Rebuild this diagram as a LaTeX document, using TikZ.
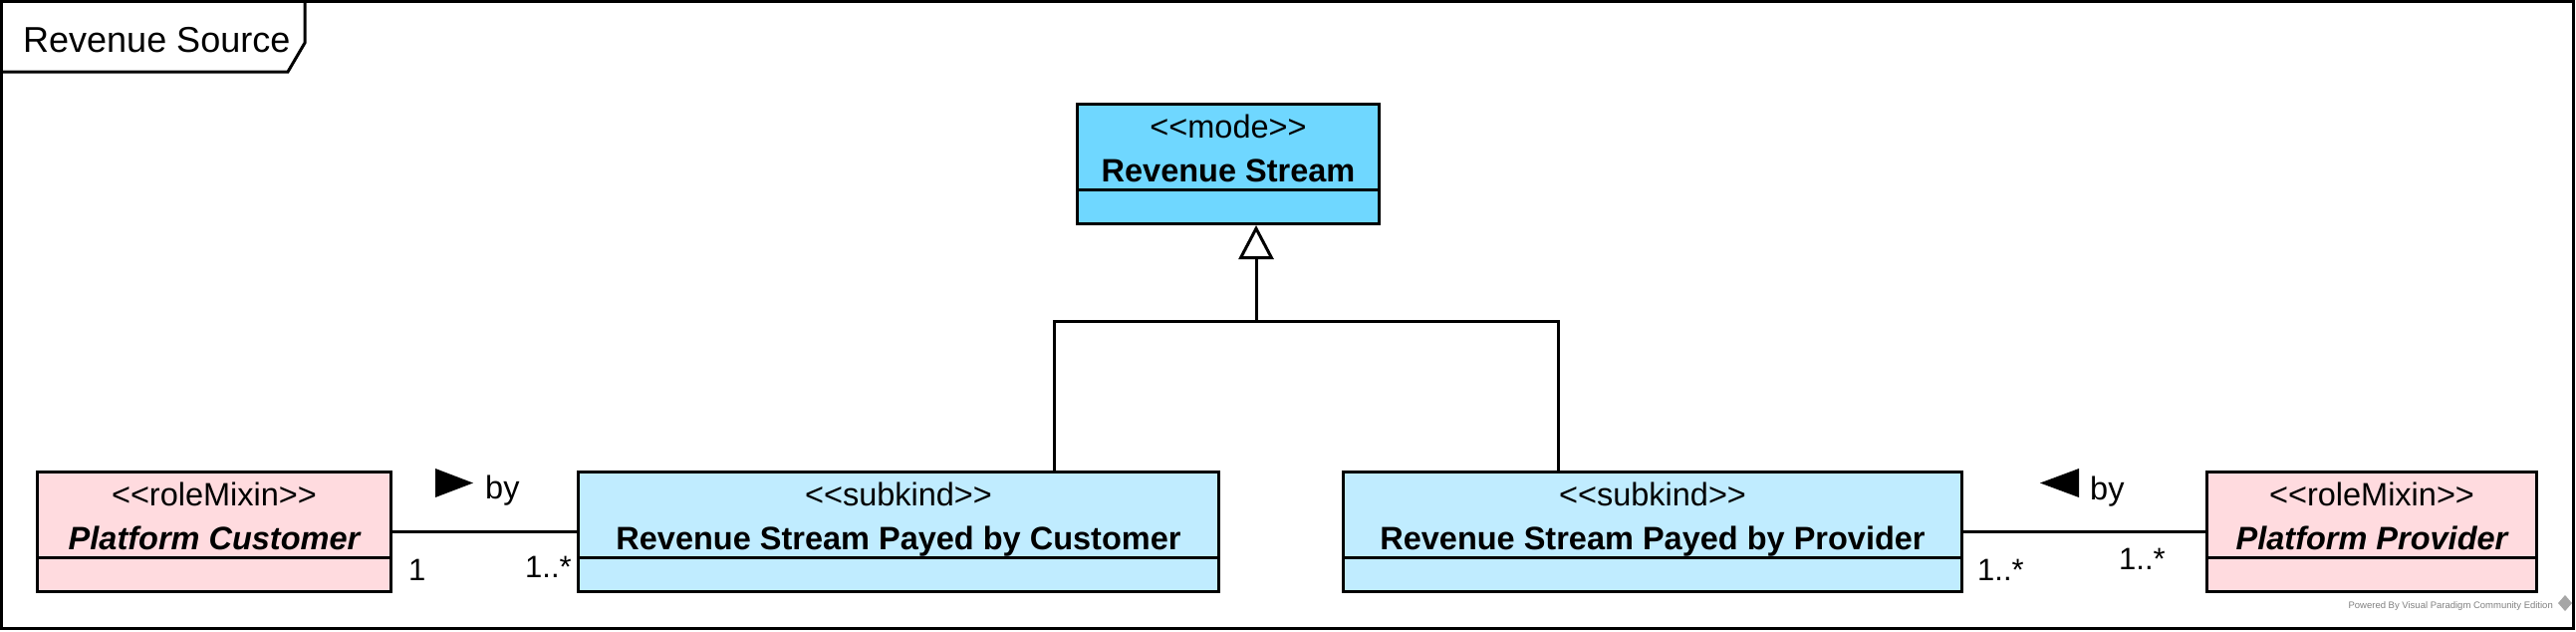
\documentclass[tikz,border=0pt]{standalone}
\usepackage{fontspec}
\setmainfont{Liberation Sans}
\usetikzlibrary{arrows.meta}
\definecolor{modeblue}{RGB}{111,215,255}
\definecolor{subkindblue}{RGB}{192,236,255}
\definecolor{rolepink}{RGB}{255,219,223}
\newcommand{\stereo}[1]{<{}<#1>{}>}
\tikzstyle{diagram frame}=[draw, line width=3pt, anchor=north west, inner sep=0pt, outer sep=0pt]
\tikzstyle{frame title}=[anchor=base west, inner sep=0pt, font=\fontsize{36pt}{43pt}\selectfont]
\tikzstyle{class box}=[draw, line width=3pt, anchor=north west, minimum height=120pt, inner sep=0pt]
\tikzstyle{mode class}=[class box, fill=modeblue]
\tikzstyle{subkind class}=[class box, fill=subkindblue]
\tikzstyle{role class}=[class box, fill=rolepink]
\tikzstyle{stereotype}=[anchor=base, inner sep=0pt, font=\fontsize{32.5pt}{39pt}\selectfont]
\tikzstyle{class name}=[stereotype, font=\fontsize{32.5pt}{39pt}\selectfont\bfseries]
\tikzstyle{role name}=[stereotype, font=\fontsize{32.5pt}{39pt}\selectfont\bfseries\itshape]
\tikzstyle{compartment}=[line width=3pt]
\tikzstyle{relation}=[line width=3pt]
\tikzstyle{generalization}=[relation, -{Triangle[open, length=34pt, width=35pt, fill=white]}]
\tikzstyle{multiplicity}=[anchor=base west, inner sep=0pt, font=\fontsize{31pt}{37pt}\selectfont]
\tikzstyle{reading}=[anchor=base west, inner sep=0pt, font=\fontsize{32.5pt}{39pt}\selectfont]

\begin{document}
\begin{tikzpicture}[x=1pt, y=-1pt]
  \useasboundingbox (0,0) rectangle (2586,633);
  \node[diagram frame, minimum width=2582pt, minimum height=629pt] (frame) at (1.5,1.5) {};
  \draw[relation] (1.5,72) -- (289,72) -- (306,43) -- (306,1.5);
  \node[frame title] (title) at (23,52) {Revenue Source};

  % classes
  \node[mode class, minimum width=303pt] (stream) at (1080,103) {};
  \node[role class, minimum width=355pt] (customer) at (36,472) {};
  \node[subkind class, minimum width=643pt] (bycustomer) at (579,472) {};
  \node[subkind class, minimum width=621pt] (byprovider) at (1347,472) {};
  \node[role class, minimum width=331pt] (provider) at (2214,472) {};

  \node[stereotype] (stream-st) at ([yshift=-35pt]stream.north) {\stereo{mode}};
  \node[class name] (stream-nm) at ([yshift=-79pt]stream.north) {Revenue Stream};
  \node[stereotype] (customer-st) at ([yshift=-35pt]customer.north) {\stereo{roleMixin}};
  \node[role name] (customer-nm) at ([yshift=-79pt]customer.north) {Platform Customer};
  \node[stereotype] (bycustomer-st) at ([yshift=-35pt]bycustomer.north) {\stereo{subkind}};
  \node[class name] (bycustomer-nm) at ([yshift=-79pt]bycustomer.north) {Revenue Stream Payed by Customer};
  \node[stereotype] (byprovider-st) at ([yshift=-35pt]byprovider.north) {\stereo{subkind}};
  \node[class name] (byprovider-nm) at ([yshift=-79pt]byprovider.north) {Revenue Stream Payed by Provider};
  \node[stereotype] (provider-st) at ([yshift=-35pt]provider.north) {\stereo{roleMixin}};
  \node[role name] (provider-nm) at ([yshift=-79pt]provider.north) {Platform Provider};

  \draw[compartment] ([yshift=36pt]stream.south west) -- ([yshift=36pt]stream.south east);
  \draw[compartment] ([yshift=36pt]customer.south west) -- ([yshift=36pt]customer.south east);
  \draw[compartment] ([yshift=36pt]bycustomer.south west) -- ([yshift=36pt]bycustomer.south east);
  \draw[compartment] ([yshift=36pt]byprovider.south west) -- ([yshift=36pt]byprovider.south east);
  \draw[compartment] ([yshift=36pt]provider.south west) -- ([yshift=36pt]provider.south east);

  % generalization
  \coordinate (fork) at (1261,322);
  \draw[relation] ([xshift=156.5pt]bycustomer.north) |- (fork) -| ([xshift=-94.5pt]byprovider.north);
  \draw[generalization] (fork) -- (stream.south -| fork);

  % associations
  \draw[relation] (customer) -- (bycustomer);
  \fill (437,470) -- (475,484.5) -- (437,499) -- cycle;
  \node[reading] (by-left) at (487,500) {by};
  \node[multiplicity] (customer-mult) at (410,582) {1};
  \node[multiplicity] (bycustomer-mult) at (527,579) {1..*};

  \draw[relation] (byprovider) -- (provider);
  \fill (2087,470) -- (2048,484.5) -- (2087,499) -- cycle;
  \node[reading] (by-right) at (2098,501) {by};
  \node[multiplicity] (byprovider-mult) at (1985,582) {1..*};
  \node[multiplicity] (provider-mult) at (2127,571) {1..*};

  \node[anchor=base east, inner sep=0pt, text=gray, font=\fontsize{9.5pt}{11pt}\selectfont] (powered) at (2563,610) {Powered By Visual Paradigm Community Edition};
  \fill[gray!70] (2575,597) -- (2582,605) -- (2575,613) -- (2568,605) -- cycle;
\end{tikzpicture}
\end{document}
